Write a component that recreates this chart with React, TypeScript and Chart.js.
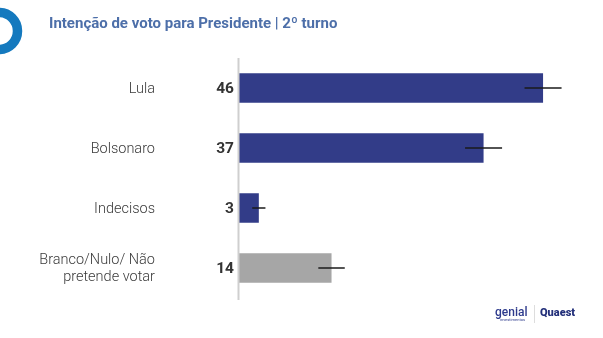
import React, { useEffect, useRef } from 'react';
import { Chart, registerables } from 'chart.js';

Chart.register(...registerables);

const titleText = 'Intenção de voto para Presidente | 2º turno';
const categories: (string | string[])[] = ['Lula', 'Bolsonaro', 'Indecisos', ['Branco/Nulo/ Não', 'pretende votar']];
const values = [46, 37, 3, 14];
const margins = [2.8, 2.8, 1, 2];
const barColors = ['#323c88', '#323c88', '#323c88', '#a6a6a6'];
const logoLeft = 'genial';
const logoLeftSub = 'investimentos';
const logoRight = 'Quaest';

const overlay = {
  id: 'overlay',
  afterDatasetsDraw(chart: any) {
    const { ctx, chartArea } = chart;
    const xs = chart.scales.x;
    const meta = chart.getDatasetMeta(0);
    ctx.save();
    // axis line
    ctx.strokeStyle = '#cfcfcf';
    ctx.lineWidth = 2;
    ctx.beginPath();
    ctx.moveTo(chartArea.left - 0.5, chartArea.top);
    ctx.lineTo(chartArea.left - 0.5, chartArea.bottom + 2);
    ctx.stroke();

    meta.data.forEach((bar: any, i: number) => {
      const y = bar.y;
      const x1 = xs.getPixelForValue(values[i] - margins[i]);
      const x2 = xs.getPixelForValue(values[i] + margins[i]);
      ctx.strokeStyle = '#1a1a1a';
      ctx.lineWidth = 1.5;
      ctx.beginPath();
      ctx.moveTo(x1, y);
      ctx.lineTo(x2, y);
      ctx.stroke();

      // value label
      ctx.font = 'bold 15.5px Roboto';
      ctx.fillStyle = '#333333';
      ctx.textAlign = 'right';
      ctx.textBaseline = 'middle';
      ctx.fillText(String(values[i]), chartArea.left - 5, y + 1);

      // category label
      const lab = chart.data.labels[i];
      const lines: string[] = Array.isArray(lab) ? lab : [String(lab)];
      const lh = 16.5;
      ctx.font = '300 14.5px Roboto';
      ctx.fillStyle = '#3a3a3a';
      lines.forEach((ln, k) => {
        const ly = y + (k - (lines.length - 1) / 2) * lh;
        ctx.fillText(ln, 155, ly + 1);
      });
    });

    // title
    ctx.font = 'bold 15px Roboto';
    ctx.fillStyle = '#4d6fa9';
    ctx.textAlign = 'left';
    ctx.textBaseline = 'alphabetic';
    ctx.fillText(titleText, 49, 28);

    // ring decoration
    ctx.strokeStyle = '#1479be';
    ctx.lineWidth = 9.5;
    ctx.beginPath();
    ctx.arc(-1, 31, 18.5, 0, Math.PI * 2);
    ctx.stroke();

    // logos
    ctx.fillStyle = '#2d3a8c';
    ctx.font = '500 12px Roboto';
    ctx.fillText(logoLeft, 495, 316);
    ctx.font = '4px Roboto';
    ctx.fillText(logoLeftSub, 500, 321);
    ctx.strokeStyle = '#dddddd';
    ctx.lineWidth = 1;
    ctx.beginPath();
    ctx.moveTo(534.5, 305);
    ctx.lineTo(534.5, 323);
    ctx.stroke();
    ctx.fillStyle = '#23307a';
    ctx.font = '900 11px Roboto';
    ctx.fillText(logoRight, 540, 316);
    ctx.restore();
  },
};

export default function App() {
  const ref = useRef<HTMLCanvasElement>(null);
  useEffect(() => {
    if (!ref.current) return;
    const chart = new Chart(ref.current, {
      type: 'bar',
      data: {
        labels: categories as any,
        datasets: [
          {
            data: values,
            backgroundColor: barColors,
            barPercentage: 0.49,
            categoryPercentage: 1,
          },
        ],
      },
      options: {
        indexAxis: 'y',
        responsive: false,
        animation: false,
        devicePixelRatio: 1,
        layout: { padding: { top: 58, bottom: 40, left: 0, right: 33.5 } },
        plugins: {
          legend: { display: false },
          tooltip: { enabled: false },
          title: { display: false },
        },
        scales: {
          x: { display: false, min: 0, max: 50 },
          y: {
            grid: { display: false },
            border: { display: false },
            ticks: { display: false },
            afterFit: (scale: any) => {
              scale.width = 239;
            },
          },
        },
      },
      plugins: [overlay],
    });
    return () => chart.destroy();
  }, []);
  return (
    <div style={{ position: 'absolute', left: 0, top: 0, width: 603, height: 338, background: '#ffffff' }}>
      <canvas ref={ref} width={603} height={338} />
    </div>
  );
}
